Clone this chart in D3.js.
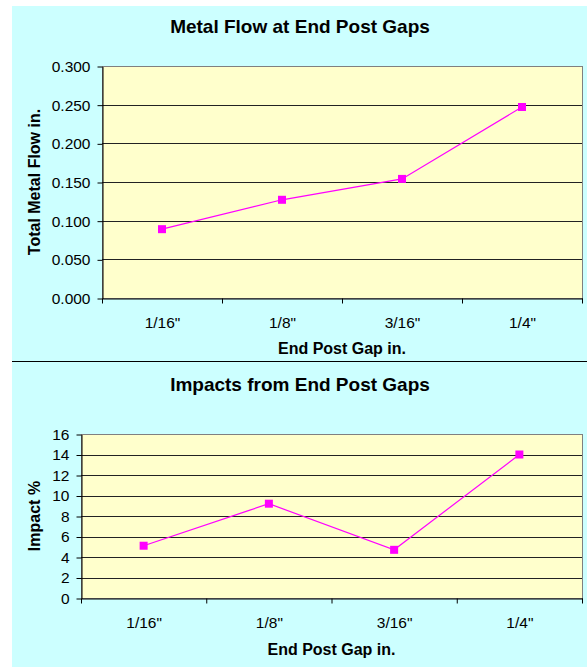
<!DOCTYPE html>
<html>
<head>
<meta charset="utf-8">
<script src="https://cdn.jsdelivr.net/npm/d3@7"></script>
<style>
  body { margin: 0; background: #fff; }
  svg { display: block; font-family: "Liberation Sans", Arial, sans-serif; }
</style>
</head>
<body>
<svg width="587" height="667"></svg>
<script>
const gaps = ['1/16"', '1/8"', '3/16"', '1/4"'];
const metalFlow = [0.089, 0.127, 0.154, 0.247];
const impacts = [5.1, 9.2, 4.7, 14.0];
const flowTicks = [0, 0.05, 0.1, 0.15, 0.2, 0.25, 0.3];
const impactTicks = [0, 2, 4, 6, 8, 10, 12, 14, 16];

const svg = d3.select('svg');
const fontFam = '"Liberation Sans", Arial, sans-serif';

// two panels: background, plot area, axes, line with square markers
function drawPanel(opt) {
    let g = svg.append('g');

    g.append('rect')
        .attr('x', 12).attr('y', opt.top)
        .attr('width', 575).attr('height', opt.bottom - opt.top)
        .attr('fill', '#ccffff');

    let x = d3.scaleBand().domain(gaps).range([opt.left, opt.right]);
    let y = d3.scaleLinear().domain(opt.domain).range([opt.plotBottom, opt.plotTop]);

    g.append('rect')
        .attr('x', opt.left + 0.5).attr('y', opt.plotTop + 0.5)
        .attr('width', opt.right - opt.left).attr('height', opt.plotBottom - opt.plotTop)
        .attr('fill', '#ffffcc').attr('stroke', '#808080');

    // grid lines
    g.append('g').selectAll('line')
        .data(opt.ticks.slice(1, -1)).enter().append('line')
        .attr('x1', opt.left).attr('x2', opt.right)
        .attr('y1', d => Math.round(y(d)) + 0.5).attr('y2', d => Math.round(y(d)) + 0.5)
        .attr('stroke', '#222');

    let yAxis = g.append('g')
        .attr('transform', `translate(${opt.left + 0.5},0.5)`)
        .call(d3.axisLeft(y).tickValues(opt.ticks).tickFormat(opt.fmt).tickSize(5).tickSizeOuter(0));
    yAxis.select('.domain').attr('stroke', '#000');
    yAxis.selectAll('text').attr('font-size', 15.5).attr('fill', '#000')
        .attr('font-family', fontFam).attr('x', -12);

    let xAxis = g.append('g')
        .attr('transform', `translate(0.5,${opt.plotBottom + 0.5})`)
        .call(d3.axisBottom(x).tickSize(0).tickSizeOuter(0));
    xAxis.select('.domain').attr('stroke', '#000');
    xAxis.selectAll('text').attr('font-size', 15.5).attr('fill', '#000')
        .attr('font-family', fontFam).attr('y', 29).attr('dy', 0);
    // category boundary ticks
    xAxis.append('g').selectAll('line')
        .data(d3.range(gaps.length + 1)).enter().append('line')
        .attr('x1', i => opt.left + i * x.step()).attr('x2', i => opt.left + i * x.step())
        .attr('y1', 0).attr('y2', 5).attr('stroke', '#000');

    let line = d3.line()
        .x((d, i) => x(gaps[i]) + x.bandwidth() / 2)
        .y(d => y(d));

    g.append('path')
        .attr('fill', 'none').attr('stroke', '#ff00ff').attr('stroke-width', 1.2)
        .attr('d', line(opt.values));

    g.append('g').selectAll('rect')
        .data(opt.values).enter().append('rect')
        .attr('x', (d, i) => x(gaps[i]) + x.bandwidth() / 2 - 4)
        .attr('y', d => y(d) - 4)
        .attr('width', 8).attr('height', 8)
        .attr('fill', '#ff00ff');

    g.append('text')
        .attr('x', 300).attr('y', opt.titleY)
        .attr('text-anchor', 'middle').attr('font-size', 19).attr('font-weight', 'bold')
        .text(opt.title);

    g.append('text')
        .attr('x', (opt.left + opt.right) / 2).attr('y', opt.xTitleY)
        .attr('text-anchor', 'middle').attr('font-size', 16).attr('font-weight', 'bold')
        .text('End Post Gap in.');

    g.append('text')
        .attr('transform', `translate(40,${(opt.plotTop + opt.plotBottom) / 2}) rotate(-90)`)
        .attr('text-anchor', 'middle').attr('font-size', 16).attr('font-weight', 'bold')
        .text(opt.yTitle);
}

drawPanel({
    top: 6, bottom: 361,
    left: 102, right: 582, plotTop: 66, plotBottom: 298,
    domain: [0, 0.3], ticks: flowTicks, fmt: d3.format('.3f'),
    values: metalFlow,
    title: 'Metal Flow at End Post Gaps', titleY: 33,
    xTitleY: 354, yTitle: 'Total Metal Flow in.'
});

drawPanel({
    top: 362, bottom: 667,
    left: 81, right: 582, plotTop: 434, plotBottom: 598,
    domain: [0, 16], ticks: impactTicks, fmt: d3.format('d'),
    values: impacts,
    title: 'Impacts from End Post Gaps', titleY: 391,
    xTitleY: 655, yTitle: 'Impact %'
});

// divider between the panels
svg.append('line')
    .attr('x1', 12).attr('x2', 587).attr('y1', 361.5).attr('y2', 361.5)
    .attr('stroke', '#000');
</script>
</body>
</html>
